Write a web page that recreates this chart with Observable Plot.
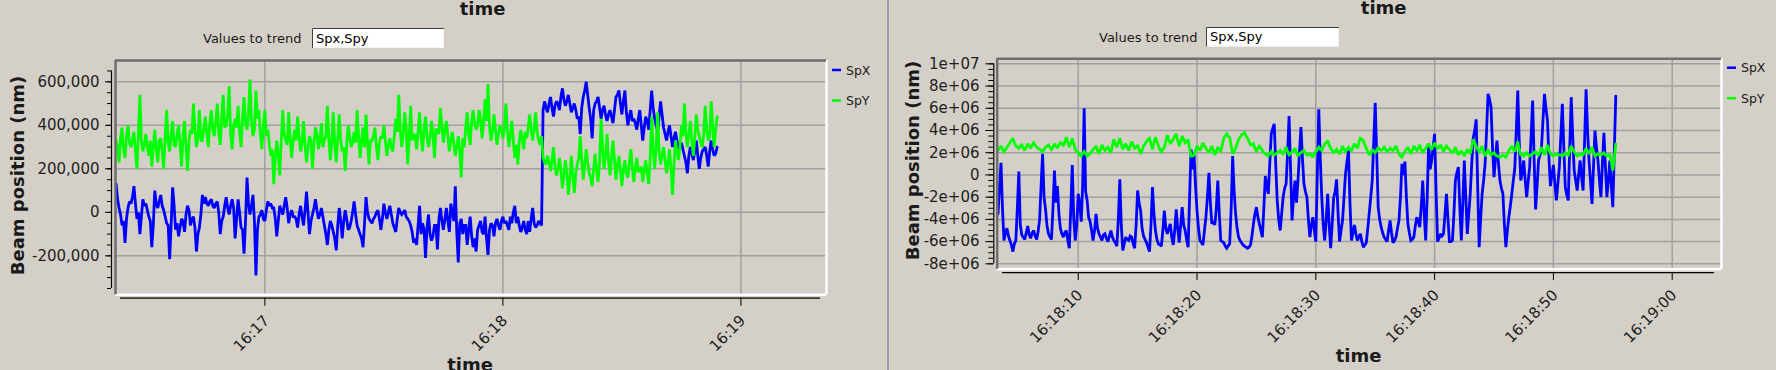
<!DOCTYPE html>
<html><head><meta charset="utf-8">
<script src="https://cdn.jsdelivr.net/npm/d3@7"></script>
<script src="https://cdn.jsdelivr.net/npm/@observablehq/plot@0.6"></script>
<style>
html,body{margin:0;padding:0;background:#d4d0c8;}
#root{position:relative;width:1776px;height:370px;overflow:hidden;background:#d4d0c8;font-family:"DejaVu Sans",sans-serif;}
#left,#right,#ann{position:absolute;top:0;}
#left{left:0;} #right{left:890px;} #ann{left:0;pointer-events:none;}
</style></head><body>
<div id="root"><div id="left"></div><div id="right"></div><svg id="ann" width="1776" height="370"></svg></div>
<script>
// ---------- DATA ----------
const DAY = "2024-01-01T";
const seriesNames = ["SpX", "SpY"];
const seriesColors = ["#0000ff", "#00ff00"];
const trendText = "Spx,Spy";

// left panel: samples every 0.75 s from 16:16:22.5 (plus a reading half-way), values in thousands of nm
const leftStart = "16:16:22.500", leftStep = 0.75;
const leftSpX_k = [
130,20,-60,-140,20,40,120,-30,-100,60,
40,-20,-160,100,20,80,10,-50,-215,115,
-80,-110,-30,-90,30,-60,-20,-180,-70,80,
70,30,60,20,50,-100,-20,70,-10,60,
-120,60,-70,-190,160,-10,80,-290,-20,10,
-40,50,40,20,-110,30,-10,70,-50,10,
-20,-70,30,-60,95,-100,-10,60,-30,20,
-60,-150,-40,-90,-175,20,-120,10,-80,-40,
50,-60,-100,-160,70,-30,-50,-20,10,-80,
40,-30,30,-50,-90,20,-10,10,-30,-60,-140,
-150,30,-50,-210,-10,-130,-60,-170,20,-80,
20,-90,0,120,-230,-30,-60,-150,-20,-160,
-180,-60,-90,-20,-195,-50,-110,-30,-80,-20,
-40,-80,-50,30,-20,-90,-40,-100,-90,20,-70,-40,-60,
510,460,530,440,510,470,570,490,540,460,500,430,360,530,600,480,340,500,530,430,
490,420,470,410,530,560,450,560,400,470,430,380,470,330,440,380,560,430,370,510,
390,330,400,300,370,280,320,260,180,300,240,330,200,280,300,210,330,260,300];
const leftSpX_mid_k = [
60,-10,-40,-30,50,70,40,0,-20,30,
10,-40,-60,40,50,30,-20,-60,-60,30,
-50,-70,-40,-10,10,-30,-70,-100,-10,40,
40,50,30,40,0,-40,30,20,30,20,
-30,0,-80,-40,40,30,-40,-80,-10,-30,
10,30,20,-30,-40,10,30,20,-10,-20,
-30,-10,-20,10,0,-40,20,10,-10,-20,
-100,-80,-60,-120,-60,-40,-40,-30,-70,0,
-10,-80,-120,-50,0,-40,-30,0,-30,-30,
0,0,-10,-70,-30,0,0,-20,-40,-90,
-120,-60,-100,-80,-70,-100,-110,-60,-30,-40,
-30,-40,40,-40,-90,-50,-100,-60,-80,-110,
-120,-80,-40,-100,-120,-80,-60,-50,-60,-40,
-50,-60,-20,0,-50,-60,-70,-80,-40,-30,
-50,-60,-50,470,
480,500,480,490,500,530,520,510,500,480,
470,440,480,560,540,430,470,510,480,470,
450,450,440,470,540,500,510,460,440,420,
410,430,400,390,420,470,480,400,440,450,
360,370,350,340,330,300,290,230,260,270,
280,260,250,290,260,280,290,270];
const leftSpY_k = [
330,230,390,250,400,300,370,200,540,280,
360,260,210,380,230,340,200,470,280,420,
300,400,210,420,190,380,500,300,470,330,
440,300,470,350,500,310,540,400,580,290,
430,490,300,530,380,610,350,560,470,290,
470,380,260,130,330,170,470,330,460,250,
380,440,280,420,230,350,200,390,290,410,
330,490,240,460,230,450,280,190,400,300,
370,470,250,390,450,220,330,390,240,350,
400,260,340,280,430,540,300,460,220,490,350,
290,460,280,440,300,420,250,380,480,320,
420,280,370,260,350,160,300,460,310,470,
380,470,340,520,590,330,450,310,400,340,
500,300,420,250,220,380,290,340,450,330,460,330,350,
230,260,190,300,170,250,110,240,80,260,90,220,350,150,290,180,120,270,140,430,
200,360,170,330,150,260,120,240,160,290,140,250,190,140,240,130,440,200,460,220,
300,180,290,80,330,240,400,500,300,420,260,450,350,300,490,330,510,300,440];
const leftSpY_mid_k = [
300,340,290,350,320,330,280,360,330,310,
300,330,300,290,330,280,350,320,360,310,
360,310,350,300,330,360,380,350,330,390,
360,410,380,420,370,440,390,450,360,400,
390,370,430,410,450,420,380,430,360,400,
350,310,290,250,270,320,360,310,340,330,
330,350,320,310,300,330,320,360,330,300,
350,340,330,310,340,330,300,310,350,320,
320,350,330,300,320,330,350,300,320,340,
330,310,300,350,370,380,360,390,340,330,
360,370,350,380,350,340,360,380,360,400,
380,350,330,320,300,280,340,390,360,420,
410,400,430,410,420,390,370,380,360,380,
390,380,350,330,310,320,340,370,390,380,
380,370,310,250,
220,230,240,210,200,190,170,180,150,170,
180,250,240,220,230,160,200,190,230,300,
260,240,250,240,220,190,200,180,230,210,
200,190,210,190,180,250,290,300,280,260,
240,230,200,220,280,300,350,370,360,330,
340,380,320,360,380,350,400,380];

// right panel: samples every 0.25 s from 16:18:03.25 (plus a reading half-way), values in millions of nm
const rightStart = "16:18:03.250", rightStep = 0.25;
const rightSpX_M = [
-3.5,1.1,-5.9,-4.8,-5.9,-6.9,-5.9,0.3,-5.4,-5.8,
-4.6,-5.7,-5.0,-5.8,-4.0,1.9,-3.1,-5.3,-5.8,0.4,
-1.0,-4.8,-5.6,-5.0,-6.6,0.9,-5.9,-1.7,-4.2,6.0,
-2.3,-4.2,-5.9,-3.5,-5.3,-5.9,-5.3,-6.0,-5.0,-5.9,
-6.4,-0.4,-6.8,-5.6,-5.9,-5.6,-6.6,-1.4,-3.2,-5.5,
-6.1,-6.9,-1.1,-5.0,-6.2,-6.4,-3.2,-5.3,-4.4,-6.3,
-3.1,-6.1,-2.9,-5.0,-6.5,2.3,1.8,-3.2,-5.9,-6.3,
-3.8,0.2,-4.4,-4.5,-0.5,-5.9,-6.1,-6.6,-6.2,1.7,
-3.5,-5.6,-6.1,-6.4,-6.6,-6.3,-4.4,-2.9,-4.4,-5.6,
-0.1,-1.7,3.7,4.6,-2.3,-5.0,-2.0,-0.8,5.3,-4.1,
-0.5,-0.5,4.3,-0.8,-2.0,
-5.6,-3.8,-6.0,5.9,-2.0,
-5.9,-1.7,-6.6,-2.1,-0.4,-6.0,-4.1,0.1,2.2,-5.9,
-4.5,-5.9,-5.3,-6.5,-6.1,-3.4,-0.5,6.5,-2.9,-4.7,
-5.6,-6.0,-4.1,-6.1,-5.6,-4.1,1.0,1.2,-4.4,-5.9,
-5.6,-3.8,-4.7,-0.5,-5.9,2.8,1.3,3.7,-6.0,-5.3,
-5.3,-1.7,-6.0,-5.9,-0.5,0.7,-5.9,1.3,-5.3,-1.7,
3.3,5.0,-6.5,-1.7,1.0,7.3,6.1,-0.2,3.1,-0.5,
-1.7,-6.5,-3.8,-1.7,0.6,7.6,-0.5,1.3,-2.0,0.7,
6.7,-3.1,1.3,2.5,7.3,4.9,-1.0,0.9,-2.3,0.7,
6.4,-1.1,-2.3,7.0,0.4,-1.4,1.3,-1.4,7.7,1.3,
-2.6,4.0,1.3,-2.0,3.8,-2.0,1.3,-2.9,7.1];
const rightSpX_mid_M = [
-1.0,-3.0,-5.2,-5.5,-6.3,-6.2,-3.0,-4.5,-5.6,-5.2,
-5.4,-5.2,-5.5,-5.1,-1.0,-2.0,-4.6,-5.6,-3.0,-2.5,
-3.5,-5.3,-5.2,-5.9,-3.0,-4.0,-4.5,-2.5,-1.0,-1.5,
-3.8,-5.0,-5.0,-4.8,-5.6,-5.4,-5.7,-5.5,-5.6,-6.1,
-4.0,-4.5,-6.2,-5.8,-5.5,-6.2,-4.5,-2.5,-4.8,-5.8,
-6.5,-4.5,-3.5,-5.8,-6.3,-5.0,-4.8,-4.8,-5.6,-5.0,
-4.8,-4.5,-4.5,-5.8,-2.0,0.5,-1.0,-4.8,-6.1,-5.0,
-2.0,-2.5,-4.2,-3.0,-3.5,-6.0,-6.4,-6.4,-3.0,-1.5,
-4.8,-5.9,-6.3,-6.5,-6.5,-5.5,-3.5,-3.8,-5.0,-3.0,
-1.0,1.0,4.2,1.0,-4.0,-3.5,-1.2,2.0,0.5,-2.0,
-2.5,2.0,1.5,-1.5,-4.0,
-4.5,-5.0,0.0,1.5,-4.5,
-4.0,-4.5,-4.5,-1.5,-3.5,-5.0,-2.0,1.2,-2.5,-5.2,
-5.3,-5.6,-6.0,-6.3,-4.8,-2.0,3.0,2.0,-4.0,-5.2,
-5.8,-5.0,-5.2,-5.9,-4.8,-2.0,0.0,-2.0,-5.2,-5.8,
-4.6,-4.2,-2.8,-3.5,-2.0,0.5,2.5,-1.5,-5.7,-5.5,
-3.5,-4.0,-6.0,-3.5,0.2,-3.0,-2.5,-2.0,-3.5,1.0,
4.0,-1.0,-4.0,-0.5,4.0,6.8,2.5,1.5,1.0,-1.2,
-4.5,-5.0,-2.8,-0.5,4.0,3.0,0.2,-0.5,-0.6,3.5,
1.5,-1.0,1.8,5.0,6.0,1.5,0.0,-0.8,-0.8,3.5,
2.5,-1.8,2.5,3.5,-0.5,0.0,-0.2,3.0,4.0,-0.6,
0.7,2.5,-0.5,1.0,0.8,-0.5,-1.0,2.0];
const rightSpY_M = [
2.2,2.6,2.1,2.5,2.9,3.3,2.6,2.4,2.7,2.2,
2.8,2.4,2.9,2.5,2.3,2.1,2.5,2.7,2.3,2.8,
2.4,2.9,2.6,3.4,2.5,3.3,2.3,2.0,1.7,2.1,
1.7,1.9,2.3,2.6,1.9,2.7,2.2,2.5,2.0,3.2,
2.5,3.3,2.3,2.8,2.2,3.0,2.4,2.7,1.9,2.6,
3.0,3.3,2.3,3.4,2.6,2.1,2.5,3.6,2.8,3.2,
3.7,2.6,3.5,2.9,3.2,1.7,1.8,2.6,2.2,2.9,
2.4,2.0,2.6,1.8,2.5,2.1,3.3,3.7,3.4,1.9,
2.4,3.2,3.6,3.8,3.3,2.7,2.8,2.1,2.6,2.2,
1.9,1.7,2.1,1.8,2.0,2.2,1.9,2.5,1.8,2.1,
2.4,1.7,2.0,2.2,1.8,
1.9,1.6,2.1,2.5,2.2,2.8,3.1,2.4,2.0,
2.3,1.9,2.6,2.1,2.5,2.2,2.8,2.4,3.3,3.1,
2.4,1.8,2.3,2.0,2.5,2.2,2.5,2.1,2.4,2.2,2.6,
1.9,1.6,2.1,2.5,1.9,2.6,2.2,2.7,2.0,2.4,
2.8,2.3,2.9,2.4,2.7,2.1,2.6,2.3,2.0,2.5,1.8,2.2,1.7,2.3,1.9,
3.2,2.6,2.1,2.6,1.7,2.3,1.8,2.0,1.7,1.6,1.8,1.6,2.2,2.6,2.1,3.0,
1.8,1.7,2.0,1.7,1.9,2.1,1.8,2.5,1.8,2.7,1.9,1.7,1.9,1.8,1.7,2.0,1.8,
2.6,2.1,1.7,1.9,1.8,2.4,1.9,2.5,1.7,1.9,1.8,2.0,1.7,1.8,0.4,2.8];
const rightSpY_mid_M = [
2.4,2.3,2.3,2.7,3.1,2.9,2.5,2.6,2.4,2.5,
2.6,2.7,2.7,2.4,2.2,2.3,2.6,2.5,2.5,2.6,
2.7,2.8,3.0,2.9,2.9,2.8,2.1,1.8,1.9,1.9,
1.8,2.1,2.4,2.2,2.3,2.4,2.4,2.2,2.6,2.8,
2.9,2.8,2.6,2.5,2.6,2.7,2.5,2.3,2.2,2.8,
3.2,2.8,2.9,3.0,2.3,2.3,3.0,3.2,3.0,3.5,
3.1,3.0,3.2,3.0,2.4,1.7,2.2,2.4,2.5,2.6,
2.2,2.3,2.2,2.1,2.3,2.7,3.5,3.5,2.6,2.1,
2.8,3.4,3.7,3.5,3.0,2.7,2.4,2.4,2.4,2.0,
1.8,1.9,1.9,1.9,2.1,2.0,2.2,2.1,1.9,2.2,
2.0,1.9,2.1,2.0,1.8,
1.8,1.9,2.3,2.3,2.5,
2.9,2.7,2.2,2.1,2.1,2.2,2.3,2.3,2.3,2.5,
2.6,2.9,3.2,2.7,2.1,2.0,2.1,2.2,2.3,2.3,
2.3,2.2,2.3,2.4,2.2,1.7,1.9,2.3,2.2,2.2,
2.4,2.4,2.3,2.2,2.6,2.5,2.6,2.6,2.5,2.4,
2.4,2.4,2.1,2.2,2.1,2.0,1.9,2.0,2.1,2.5,
2.9,2.3,2.3,2.1,2.0,2.0,1.9,1.8,1.7,1.7,
1.7,1.9,2.4,2.3,2.5,2.3,1.8,1.9,1.8,1.8,
2.0,1.9,2.1,2.1,2.2,2.3,1.8,1.8,1.8,1.8,
1.8,1.9,2.2,2.3,1.9,1.8,1.8,2.1,2.1,2.2,
2.1,1.8,1.8,1.9,1.8,1.8,1.2,1.5];

// axes
const leftXTickLabels = ["16:17", "16:18", "16:19"];
const rightXTickLabels = ["16:18:10", "16:18:20", "16:18:30", "16:18:40", "16:18:50", "16:19:00"];
const leftXDomain = ["16:16:22.350", "16:19:21.570"];
const rightXDomain = ["16:18:03.180", "16:19:04.150"];
const leftYDomain = [-379000, 698000];
const rightYDomain = [-8.483e6, 1.0453e7];
const leftYTicks = [-200000, 0, 200000, 400000, 600000];
const leftYMinor = d3.range(-350000, 650001, 50000);
const rightYTicks = [-8e6, -6e6, -4e6, -2e6, 0, 2e6, 4e6, 6e6, 8e6, 1e7];
const rightYMinor = d3.range(-8e6, 1e7 + 1, 5e5);

// ---------- BUILD ----------
const T = s => new Date(DAY + s + "Z");
function table(start, stepSec, vals, mids, scale) {
  const t0 = T(start).getTime(), rows = [];
  vals.forEach((v, i) => {
    rows.push({t: new Date(t0 + i * stepSec * 1000), v: v * scale});
    if (i < mids.length) rows.push({t: new Date(t0 + (i + 0.5) * stepSec * 1000), v: mids[i] * scale});
  });
  return rows;
}
const fmtLeftY = v => v.toLocaleString("en-US");
const fmtRightY = v => v === 0 ? "0" : v.toExponential(0).replace(/e([+-])(\d)$/, "e$10$2");

function panel(o) {
  const xd = o.xDomain.map(T), yd = o.yDomain;
  const xt = o.xTicks.map(s => T(s.length === 5 ? s + ":00" : s));
  const grid = {stroke: "#a0a0a0", strokeOpacity: 1, strokeWidth: 1.5};
  const lineOpts = {x: "t", y: "v", strokeWidth: 2.8, strokeLinejoin: "miter", strokeMiterlimit: 2};
  return Plot.plot({
    width: o.width, height: 370,
    marginLeft: o.ml, marginRight: o.mr, marginTop: o.mt, marginBottom: o.mb,
    style: {background: "transparent", overflow: "visible", fontFamily: "DejaVu Sans", fontSize: "15px", color: "#1e1e1e"},
    x: {type: "utc", domain: xd},
    y: {domain: yd},
    marks: [
      Plot.gridX(xt, grid),
      Plot.gridY(o.yTicks, grid),
      Plot.line(o.spx, {...lineOpts, stroke: seriesColors[0]}),
      Plot.line(o.spy, {...lineOpts, stroke: seriesColors[1]}),
      Plot.ruleY([yd[0]], {stroke: "#ffffff", strokeWidth: 2.5}),
      Plot.ruleX([xd[1]], {stroke: "#ffffff", strokeWidth: 2.5}),
      Plot.ruleY([yd[1]], {stroke: "#6e6e6e", strokeWidth: 2.5}),
      Plot.ruleX([xd[0]], {stroke: "#6e6e6e", strokeWidth: 2.5}),
      Plot.ruleX([xd[0]], {dx: o.yAxisDx, y1: o.yMinor[0], y2: o.yMinor[o.yMinor.length - 1], stroke: "#000", strokeWidth: 1.2}),
      Plot.ruleY([yd[0]], {dy: 3.4, insetLeft: o.xAxisInset[0], insetRight: o.xAxisInset[1], stroke: "#000", strokeWidth: 1.2}),
      Plot.axisY(o.yMinor, {anchor: "left", dx: o.yAxisDx, tickSize: o.minorTick, stroke: "#000", fill: "none", label: null}),
      Plot.axisY(o.yTicks, {anchor: "left", dx: o.yAxisDx, tickSize: o.majorTick, tickPadding: o.yPad, tickFormat: o.yFormat, label: null, stroke: "#000"}),
      Plot.axisX(xt, {anchor: "bottom", dy: 3.4, tickSize: 8, stroke: "#000", fill: "none", label: null}),
      Plot.axisX(xt, {anchor: "bottom", dy: 3.4, dx: 2, tickSize: 0, tickPadding: 20, tickRotate: -45, tickFormat: o.xFormat, label: null})
    ]
  });
}

document.getElementById("left").appendChild(panel({
  width: 887, ml: 115, mr: 61, mt: 60, mb: 75.7,
  xDomain: leftXDomain, yDomain: leftYDomain, xTicks: leftXTickLabels,
  yTicks: leftYTicks, yMinor: leftYMinor, yFormat: fmtLeftY, xFormat: d3.utcFormat("%H:%M"),
  yAxisDx: -4, majorTick: 6, minorTick: 4, yPad: 6, xAxisInset: [5, 6],
  spx: table(leftStart, leftStep, leftSpX_k, leftSpX_mid_k, 1e3),
  spy: table(leftStart, leftStep, leftSpY_k, leftSpY_mid_k, 1e3)
}));
document.getElementById("right").appendChild(panel({
  width: 886, ml: 106.7, mr: 55, mt: 58.3, mb: 101.3,
  xDomain: rightXDomain, yDomain: rightYDomain, xTicks: rightXTickLabels,
  yTicks: rightYTicks, yMinor: rightYMinor, yFormat: fmtRightY, xFormat: d3.utcFormat("%H:%M:%S"),
  yAxisDx: -3.4, majorTick: 8, minorTick: 5, yPad: 6.3, xAxisInset: [5.3, 7],
  spx: table(rightStart, rightStep, rightSpX_M, rightSpX_mid_M, 1e6),
  spy: table(rightStart, rightStep, rightSpY_M, rightSpY_mid_M, 1e6)
}));

// ---------- ANNOTATIONS ----------
const ann = d3.select("#ann");
ann.append("rect").attr("x", 887).attr("y", 0).attr("width", 2).attr("height", 370).attr("fill", "#9a9aa6");
function text(x, y, s, size, weight, anchor, rot) {
  const t = ann.append("text").attr("x", x).attr("y", y).text(s)
    .attr("font-family", "DejaVu Sans").attr("font-size", size).attr("font-weight", weight || "normal")
    .attr("text-anchor", anchor || "start").attr("fill", "#1a1a1a");
  if (rot) t.attr("transform", `rotate(${rot},${x},${y})`);
  return t;
}
const panels = [
  {title: [482.5, 15], bottom: [470, 370.5], ylab: [23.5, 175.5], vt: [203, 43], box: [312, 28, 132, 20], legend: [832, 70]},
  {title: [1383.7, 13.5], bottom: [1358.5, 361.7], ylab: [918.5, 160.5], vt: [1099, 41.5], box: [1206, 27, 133, 19.5], legend: [1727, 67.7]}
];
for (const p of panels) {
  text(p.title[0], p.title[1], "time", 18, "bold", "middle");
  text(p.bottom[0], p.bottom[1], "time", 18, "bold", "middle");
  text(p.ylab[0], p.ylab[1], "Beam position (nm)", 18, "bold", "middle", -90);
  text(p.vt[0], p.vt[1], "Values to trend", 13);
  const [bx, by, bw, bh] = p.box;
  ann.append("rect").attr("x", bx).attr("y", by).attr("width", bw).attr("height", bh).attr("fill", "#ffffff");
  ann.append("path").attr("d", `M${bx + 0.5},${by + bh}V${by + 0.5}H${bx + bw}`).attr("stroke", "#404040").attr("fill", "none");
  ann.append("path").attr("d", `M${bx + 1},${by + bh - 0.5}H${bx + bw - 0.5}V${by + 1}`).attr("stroke", "#f4f4f4").attr("fill", "none");
  text(bx + 4, by + bh - 5.5, trendText, 13).attr("fill", "#000");
  seriesNames.forEach((n, i) => {
    const ly = p.legend[1] + i * 30.5;
    ann.append("line").attr("x1", p.legend[0]).attr("x2", p.legend[0] + 9).attr("y1", ly).attr("y2", ly)
      .attr("stroke", seriesColors[i]).attr("stroke-width", 2.5);
    text(p.legend[0] + 14, ly + 4.6, n, 12.5);
  });
}
</script></body></html>
